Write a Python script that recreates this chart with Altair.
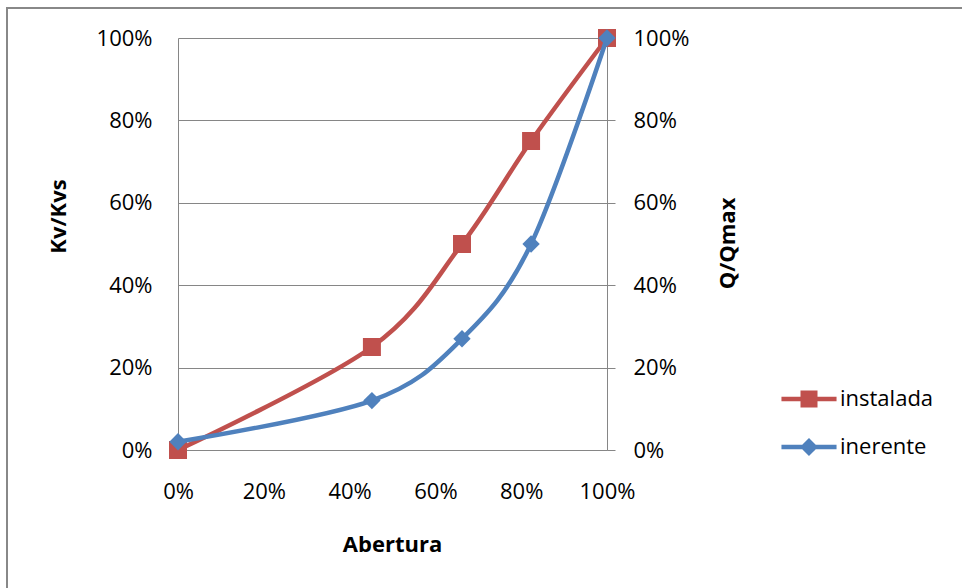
import altair as alt
import pandas as pd

# Valve characteristic: relative flow vs. opening
abertura = [0.0, 0.452, 0.662, 0.823, 1.0]
instalada = [0.0, 0.25, 0.50, 0.75, 1.0]
inerente = [0.02, 0.12, 0.27, 0.50, 1.0]

series = ["instalada", "inerente"]
colors = ["#C0504D", "#4F81BD"]
ticks = [0, 0.2, 0.4, 0.6, 0.8, 1.0]

# legend glyphs: a line segment with the series marker on top
legend_paths = [
    "M-1.62,-0.13H1.62V0.13H-1.62Z M-0.5,-0.5H0.5V0.5H-0.5Z",
    "M-1.62,-0.13H1.62V0.13H-1.62Z M0,-0.53L0.53,0L0,0.53L-0.53,0Z",
]

df = pd.DataFrame({"abertura": abertura, "instalada": instalada, "inerente": inerente})
long_df = df.melt("abertura", var_name="serie", value_name="valor")

FONT = "Open Sans"
FS = 22
GRID = "#868686"

x_enc = alt.X(
    "abertura:Q",
    scale=alt.Scale(domain=[0, 1], nice=False),
    axis=alt.Axis(
        values=ticks, format="%", title="Abertura", grid=False, ticks=False,
        domainColor=GRID, domainWidth=1, labelPadding=31, labelFlush=False,
        labelFont=FONT, labelFontSize=FS, labelColor="black",
        titleFont=FONT, titleFontSize=FS, titleFontWeight="bold", titleColor="black",
        titleX=214, titleY=94, titleAlign="center", titleBaseline="middle",
    ),
)

y_left = alt.Y(
    "instalada:Q",
    scale=alt.Scale(domain=[0, 1], nice=False),
    axis=alt.Axis(
        values=ticks, format="%", orient="left", title="Kv/Kvs",
        grid=True, gridColor=GRID, gridWidth=1, ticks=False,
        domainColor=GRID, domainWidth=1, labelPadding=26,
        labelFont=FONT, labelFontSize=FS, labelColor="black",
        titleFont=FONT, titleFontSize=FS, titleFontWeight="bold", titleColor="black",
        titleX=-120, titleY=178, titleAngle=270, titleAlign="center", titleBaseline="middle",
    ),
)

y_right = alt.Y(
    "inerente:Q",
    scale=alt.Scale(domain=[0, 1], nice=False),
    axis=alt.Axis(
        values=ticks, format="%", orient="right", title="Q/Qmax",
        grid=False, ticks=True, tickSize=8, tickColor=GRID, tickWidth=1,
        domainColor=GRID, domainWidth=1, labelPadding=18,
        labelFont=FONT, labelFontSize=FS, labelColor="black",
        titleFont=FONT, titleFontSize=FS, titleFontWeight="bold", titleColor="black",
        titleX=120, titleY=205, titleAngle=270, titleAlign="center", titleBaseline="middle",
    ),
)

# outer chart frame
frame = alt.Chart(pd.DataFrame({"k": [0]})).mark_rect(
    fill=None, stroke="#888888", strokeWidth=2
).encode(
    x=alt.value(-171), x2=alt.value(800), y=alt.value(-30), y2=alt.value(600)
)

inst_line = alt.Chart(df).mark_line(
    color=colors[0], strokeWidth=4.5, interpolate="cardinal"
).encode(x=x_enc, y=y_left)

inst_pts = alt.Chart(df).mark_point(
    shape="square", filled=True, size=324, color=colors[0], opacity=1
).encode(x=x_enc, y=y_left)

legend_kw = dict(
    title=None, orient="none", legendX=614, legendY=344, padding=0,
    symbolSize=1156, symbolStrokeWidth=0, symbolOpacity=1,
    labelOffset=14, rowPadding=20,
    labelFont=FONT, labelFontSize=FS, labelColor="black",
)

legend_layer = alt.Chart(long_df).transform_filter("datum.abertura < 0").mark_point(
    filled=True, opacity=1
).encode(
    color=alt.Color("serie:N", scale=alt.Scale(domain=series, range=colors),
                    legend=alt.Legend(**legend_kw)),
    shape=alt.Shape("serie:N", scale=alt.Scale(domain=series, range=legend_paths),
                    legend=alt.Legend(**legend_kw)),
)

iner_line = alt.Chart(df).mark_line(
    color=colors[1], strokeWidth=4.5, interpolate="cardinal"
).encode(x=x_enc, y=y_right)

iner_pts = alt.Chart(df).mark_point(
    shape="diamond", filled=True, size=300, color=colors[1], opacity=1
).encode(x=x_enc, y=y_right)

left = alt.layer(frame, inst_line, inst_pts, legend_layer)
right = alt.layer(iner_line, iner_pts)

chart = alt.layer(left, right).resolve_scale(y="independent").properties(
    width=429, height=412, autosize="none",
    padding={"left": 178, "top": 38, "right": 355, "bottom": 138},
    background="white",
).configure_view(strokeWidth=0)

chart.save("out.html", embed_options={"renderer": "svg", "actions": False})
